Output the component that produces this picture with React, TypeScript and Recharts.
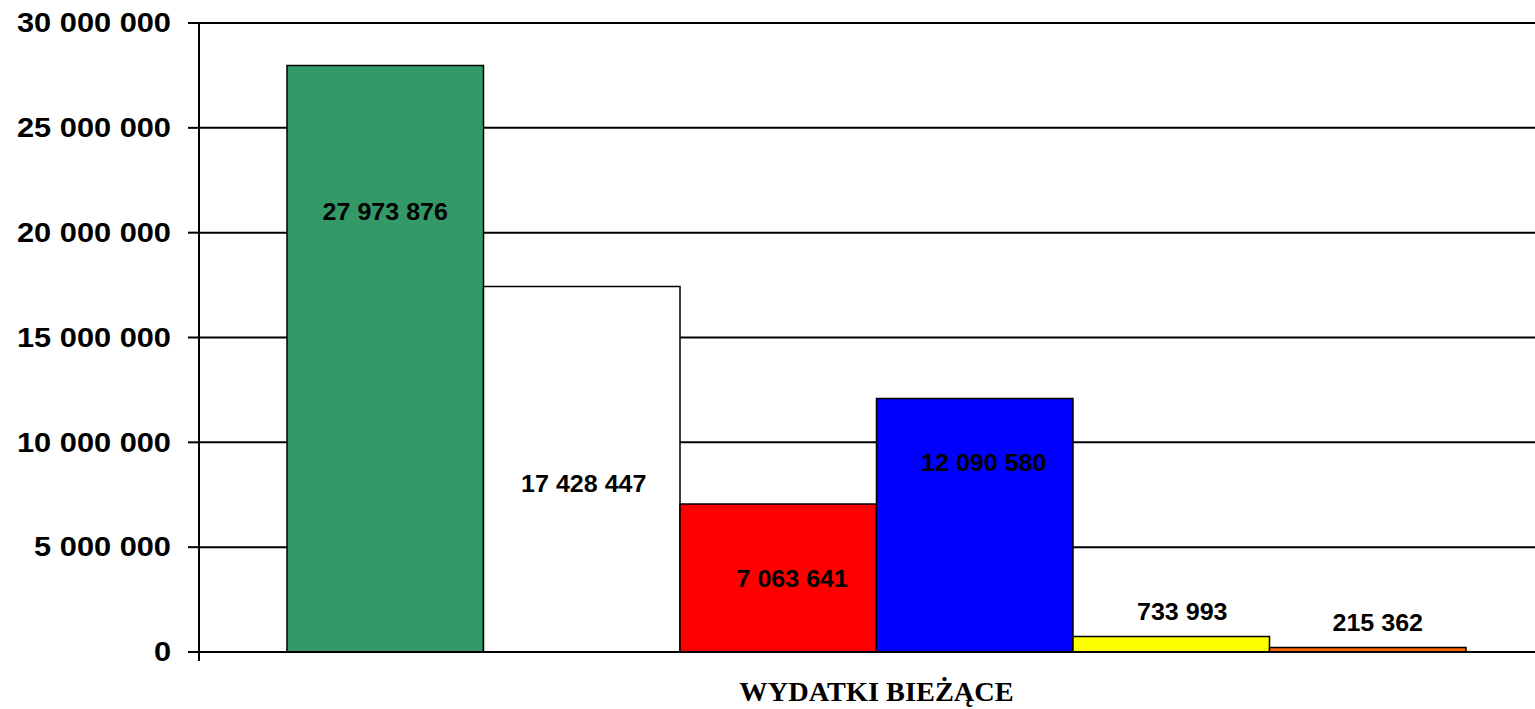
import { BarChart, Bar, XAxis, YAxis, CartesianGrid, LabelList } from "recharts";

const categories = ["WYDATKI BIEŻĄCE"];
const series1 = [27973876];
const series2 = [17428447];
const series3 = [7063641];
const series4 = [12090580];
const series5 = [733993];
const series6 = [215362];
const yTicks = [0, 5000000, 10000000, 15000000, 20000000, 25000000, 30000000];

const seriesKeys = ["s1", "s2", "s3", "s4", "s5", "s6"];
const seriesValues = [series1, series2, series3, series4, series5, series6];

// look of each series: fill + where the value label sits relative to the bar top
const seriesStyle = [
  { fill: "#339966", dx: 0, dy: 146 },
  { fill: "#ffffff", dx: 2, dy: 197 },
  { fill: "#ff0000", dx: 14, dy: 75 },
  { fill: "#0000ff", dx: 9, dy: 64 },
  { fill: "#ffff00", dx: 11, dy: -25 },
  { fill: "#ff6600", dx: 10, dy: -25 },
];

const data = categories.map((name, i) => {
  const row: Record<string, string | number> = { name };
  seriesKeys.forEach((k, j) => {
    row[k] = seriesValues[j][i];
  });
  return row;
});

const fmt = (v: number) => String(v).replace(/\B(?=(\d{3})+(?!\d))/g, " ");

function YTick(props: any) {
  const { x, y, payload } = props;
  return (
    <g transform={`translate(${x},${y})`}>
      <text
        transform="scale(1.14,1)"
        textAnchor="end"
        dominantBaseline="central"
        fontFamily="'Liberation Sans', Arial, sans-serif"
        fontWeight="bold"
        fontSize={27}
        fill="#000"
      >
        {fmt(payload.value)}
      </text>
    </g>
  );
}

function XTick(props: any) {
  const { x, y, payload } = props;
  const half = payload && payload.offset ? payload.offset : 0;
  return (
    <g>
      {half > 0 && (
        <line x1={x - half} x2={x - half} y1={y - 8} y2={y + 1} stroke="#000" strokeWidth={2} />
      )}
      <g transform={`translate(${x},${y + 32})`}>
        <text
          transform="scale(1.05,1)"
          textAnchor="middle"
          dominantBaseline="central"
          fontFamily="'Liberation Serif', 'Times New Roman', serif"
          fontWeight="bold"
          fontSize={27}
          fill="#000"
        >
          {payload.value}
        </text>
      </g>
    </g>
  );
}

function makeLabel(dx: number, dy: number) {
  return (props: any) => {
    const { x, y, width, value } = props;
    const cx = Number(x) + Number(width) / 2 + dx;
    const cy = Number(y) + dy;
    return (
      <g transform={`translate(${cx},${cy})`}>
        <text
          transform="scale(1.09,1)"
          textAnchor="middle"
          dominantBaseline="central"
          fontFamily="'Liberation Sans', Arial, sans-serif"
          fontWeight="bold"
          fontSize={23}
          fill="#000"
        >
          {fmt(Number(value))}
        </text>
      </g>
    );
  };
}

export default function App() {
  return (
    <div
      style={{
        position: "fixed",
        left: 0,
        top: 0,
        width: 1535,
        height: 709,
        overflow: "hidden",
        background: "#fff",
      }}
    >
      <BarChart
        width={1560}
        height={709}
        data={data}
        margin={{ top: 23, right: 6, bottom: 0, left: 0 }}
        barSize={196.5}
        barGap={0}
      >
        <CartesianGrid vertical={false} stroke="#000" strokeWidth={2} />
        <XAxis
          dataKey="name"
          height={57}
          axisLine={{ stroke: "#000", strokeWidth: 2 }}
          tickLine={false}
          tick={<XTick />}
          interval={0}
        />
        <YAxis
          width={199}
          domain={[0, 30000000]}
          ticks={yTicks}
          interval={0}
          axisLine={{ stroke: "#000", strokeWidth: 2 }}
          tickLine={{ stroke: "#000", strokeWidth: 2 }}
          tickSize={11}
          tickMargin={17}
          tick={<YTick />}
        />
        {seriesKeys.map((k, j) => (
          <Bar
            key={k}
            dataKey={k}
            fill={seriesStyle[j].fill}
            stroke="#000"
            strokeWidth={1.5}
            isAnimationActive={false}
          >
            <LabelList dataKey={k} content={makeLabel(seriesStyle[j].dx, seriesStyle[j].dy)} />
          </Bar>
        ))}
      </BarChart>
    </div>
  );
}
